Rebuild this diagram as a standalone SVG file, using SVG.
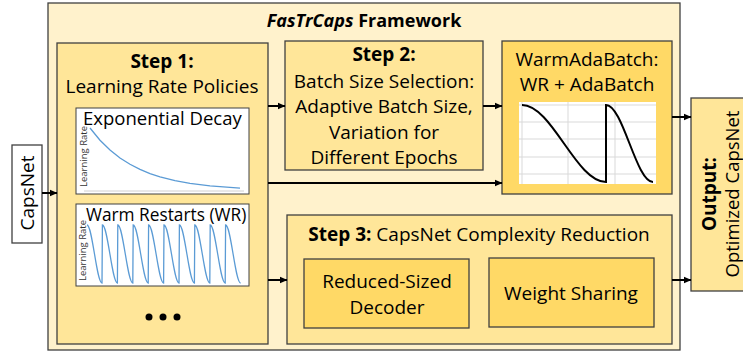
<svg xmlns="http://www.w3.org/2000/svg" width="743" height="352" viewBox="0 0 743 352">
<defs>
<marker id="ah" markerWidth="8" markerHeight="8" refX="7" refY="4" orient="auto" markerUnits="userSpaceOnUse">
<path d="M0,0.8 L7.5,4 L0,7.2 Z" fill="#000"/>
</marker>
</defs>
<style>
text{font-family:"Open Sans","Liberation Sans",sans-serif;fill:#000}
.box{stroke:#404040;stroke-width:1.3}
.l1{fill:#FFF2CC}
.l2{fill:#FFE699}
.l3{fill:#FFD966}
.t{font-size:19px;text-anchor:middle}
.b{font-weight:bold}
.conn{stroke:#000;stroke-width:2;fill:none;marker-end:url(#ah)}
.grid{stroke:#D9D9D9;stroke-width:1}
.lr{font-size:9.5px;fill:#333}
.blue{fill:none;stroke:#5B9BD5;stroke-width:1.3}
</style>

<g id="input">
<rect class="box" x="12" y="145" width="30" height="98" fill="#fff"/>
<text class="t" transform="translate(33.5,193) rotate(-90)">CapsNet</text>
</g>

<g id="framework">
<rect class="box l1" x="48" y="3" width="632" height="347"/>
<text class="t b" x="364" y="27" style="font-size:18px"><tspan font-style="italic">FasTrCaps</tspan> Framework</text>
</g>

<g id="step1">
<rect class="box l2" x="57" y="43" width="211" height="301"/>
<text class="t b" x="162" y="68">Step 1:</text>
<text class="t" x="162" y="93">Learning Rate Policies</text>
<g id="expdecay">
<rect x="76" y="108" width="173" height="86" fill="#fff" stroke="#404040" stroke-width="1"/>
<line x1="84" y1="191" x2="244" y2="191" stroke="#D0D0D0" stroke-width="1"/>
<text x="83" y="125" font-size="18.5px">Exponential Decay</text>
<text class="lr" transform="translate(86.5,187) rotate(-90)">Learning Rate</text>
<polyline class="blue" stroke-width="1.6" points="90,128 100,140.2 110,150 120,158 130,164.3 140,169.4 150,173.6 160,176.9 175,180.6 190,183.4 210,185.9 240,188.1"/>
</g>
<g id="warmrestarts">
<rect x="76" y="204" width="173" height="82" fill="#fff" stroke="#404040" stroke-width="1"/>
<text x="86" y="221" font-size="17.3px">Warm Restarts (WR)</text>
<text class="lr" transform="translate(85.5,281) rotate(-90)">Learning Rate</text>
<path class="blue" d="M87,225 c5.4,0 9.6,58 15,58 l0.4,-58 c5.4,0 9.6,58 15,58 l0.4,-58 c5.4,0 9.6,58 15,58 l0.4,-58 c5.4,0 9.6,58 15,58 l0.4,-58 c5.4,0 9.6,58 15,58 l0.4,-58 c5.4,0 9.6,58 15,58 l0.4,-58 c5.4,0 9.6,58 15,58 l0.4,-58 c5.4,0 9.6,58 15,58 l0.4,-58 c5.4,0 9.6,58 15,58 l0.4,-58 c5.4,0 9.6,58 15,58"/>
</g>
<g id="dots" fill="#000">
<circle cx="149" cy="317" r="3.5"/>
<circle cx="163" cy="317" r="3.5"/>
<circle cx="177" cy="317" r="3.5"/>
</g>
</g>

<g id="step2">
<rect class="box l2" x="285" y="41" width="198" height="129"/>
<text class="t b" x="384" y="61">Step 2:</text>
<text class="t" x="384" y="88">Batch Size Selection:</text>
<text class="t" x="384" y="113">Adaptive Batch Size,</text>
<text class="t" x="384" y="139">Variation for</text>
<text class="t" x="384" y="164">Different Epochs</text>
</g>

<g id="warmadabatch">
<rect class="box l3" x="502" y="41" width="170" height="153"/>
<text class="t" x="587" y="66">WarmAdaBatch:</text>
<text class="t" x="587" y="91">WR + AdaBatch</text>
<rect x="519" y="102" width="137" height="82" fill="#fff"/>
<g class="grid">
<line x1="519" y1="105" x2="656" y2="105"/>
<line x1="519" y1="122" x2="656" y2="122"/>
<line x1="519" y1="139" x2="656" y2="139"/>
<line x1="519" y1="157" x2="656" y2="157"/>
<line x1="519" y1="174" x2="656" y2="174"/>
<line x1="522" y1="102" x2="522" y2="184"/>
<line x1="568" y1="102" x2="568" y2="184"/>
<line x1="615" y1="102" x2="615" y2="184"/>
</g>
<path d="M522,105 C552,105 576,182 606,182 L606,105 C623,105 636,182 653,182" fill="none" stroke="#000" stroke-width="2"/>
</g>

<g id="step3">
<rect class="box l2" x="287" y="215" width="385" height="129"/>
<text class="t" x="479" y="241"><tspan class="b">Step 3:</tspan> CapsNet Complexity Reduction</text>
<g id="decoder">
<rect class="box l3" x="304" y="259" width="165" height="69"/>
<text class="t" x="387" y="288">Reduced-Sized</text>
<text class="t" x="387" y="314">Decoder</text>
</g>
<g id="weightsharing">
<rect class="box l3" x="489" y="258" width="165" height="69"/>
<text class="t" x="571" y="300">Weight Sharing</text>
</g>
</g>

<g id="output">
<rect class="box l2" x="691" y="98" width="60" height="193"/>
<text class="t b" transform="translate(716,194) rotate(-90)">Output:</text>
<text class="t" transform="translate(738.5,194) rotate(-90)" style="font-size:18.5px">Optimized CapsNet</text>
</g>

<g id="connectors">
<line class="conn" x1="42" y1="193" x2="57" y2="193"/>
<line class="conn" x1="268" y1="106" x2="285" y2="106"/>
<line class="conn" x1="483" y1="106" x2="502" y2="106"/>
<line class="conn" x1="268" y1="183" x2="502" y2="183"/>
<line class="conn" x1="268" y1="280" x2="287" y2="280"/>
<line class="conn" x1="672" y1="117" x2="691" y2="117"/>
<line class="conn" x1="672" y1="280" x2="691" y2="280"/>
</g>
</svg>
